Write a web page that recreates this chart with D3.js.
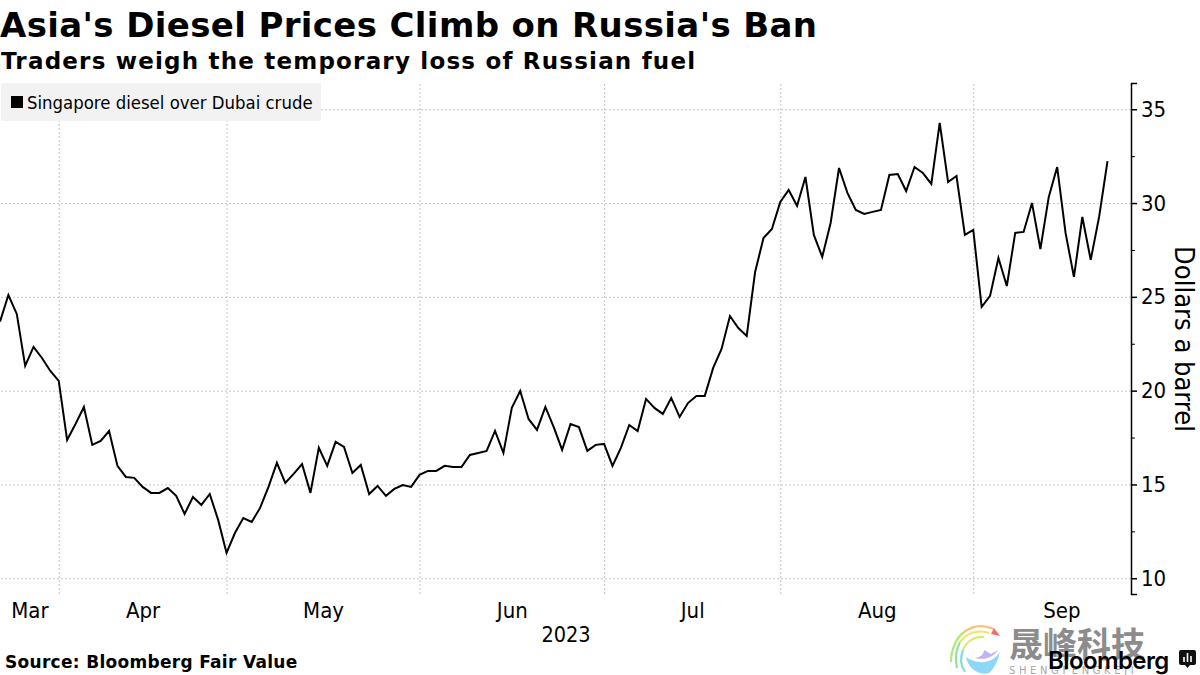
<!DOCTYPE html>
<html>
<head>
<meta charset="utf-8">
<script src="https://cdn.jsdelivr.net/npm/d3@7"></script>
<style>
  html, body { margin: 0; padding: 0; background: #fff; }
  svg { display: block; }
  text { font-family: "DejaVu Sans", sans-serif; fill: #000; }
  .grid line { stroke: #c4c4c4; stroke-width: 1; stroke-dasharray: 2 2; }
  .tick-label { font-stretch: condensed; }
</style>
</head>
<body>
<div id="chart"></div>
<script>
// Singapore diesel over Dubai crude, one value per weekday, 23 Mar - 25 Sep 2023
var spread = [
  23.68, 25.10, 24.09, 21.32, 22.33, 21.74, 21.05, 20.52, 17.37, 18.22,
  19.13, 17.11, 17.32, 17.85, 15.99, 15.40, 15.35, 14.87, 14.55, 14.55,
  14.81, 14.39, 13.43, 14.33, 13.91, 14.49, 13.11, 11.35, 12.41, 13.21,
  13.00, 13.75, 14.87, 16.15, 15.08, 15.56, 16.09, 14.55, 16.95, 15.99,
  17.27, 17.00, 15.61, 16.04, 14.49, 14.92, 14.39, 14.76, 14.97, 14.87,
  15.51, 15.72, 15.72, 15.99, 15.93, 15.93, 16.57, 16.68, 16.79, 17.85,
  16.68, 19.08, 19.98, 18.49, 17.91, 19.13, 18.06, 16.84, 18.22, 18.06,
  16.79, 17.11, 17.16, 15.99, 16.95, 18.17, 17.85, 19.56, 19.08, 18.76,
  19.61, 18.60, 19.34, 19.72, 19.72, 21.21, 22.22, 23.98, 23.34, 22.92,
  26.33, 28.14, 28.62, 30.06, 30.70, 29.85, 31.39, 28.30, 27.13, 28.94,
  31.87, 30.54, 29.63, 29.42, 29.53, 29.63, 31.50, 31.55, 30.64, 31.92,
  31.60, 31.02, 34.27, 31.12, 31.44, 28.30, 28.57, 24.46, 25.05, 27.07,
  25.58, 28.41, 28.46, 30.00, 27.55, 30.33, 31.92, 28.41, 26.06, 29.26,
  26.97, 29.26, 32.24
];
var monthLabels = ["Mar", "Apr", "May", "Jun", "Jul", "Aug", "Sep"];
// index of the first weekday of each month in spread (last one is past the end)
var monthStarts = [0, 7, 27, 50, 72, 93, 116, 137];
var yMajor = [10, 15, 20, 25, 30, 35];
var yMinor = [12.5, 17.5, 22.5, 27.5, 32.5];

const svg_width = 1200;
const svg_height = 675;
const plot = {left: 0, right: 1131, top: 83, bottom: 594};

const svg = d3.select('#chart').append('svg')
  .attr('width', svg_width).attr('height', svg_height);

const xScale = d3.scaleLinear([0, 134.8], [plot.left, plot.right]);
const yScale = d3.scaleLinear([9.16, 36.40], [plot.bottom, plot.top]);

// gridlines
svg.append('g').attr('class', 'grid').attr('transform', `translate(${plot.right},0)`)
  .call(d3.axisRight(yScale).tickValues(yMajor).tickSize(-(plot.right - plot.left)).tickFormat(''))
  .call(g => g.select('.domain').remove());
svg.append('g').attr('class', 'grid').attr('transform', `translate(0,${plot.bottom})`)
  .call(d3.axisBottom(xScale).tickValues(monthStarts.slice(1, -1)).tickSize(-(plot.bottom - plot.top)).tickFormat(''))
  .call(g => g.select('.domain').remove());

// legend
svg.append('rect').attr('x', 1).attr('y', 83).attr('width', 320).attr('height', 38).attr('rx', 3).attr('fill', '#f2f2f2');
svg.append('rect').attr('x', 11).attr('y', 96).attr('width', 12).attr('height', 12).attr('fill', '#000');
svg.append('text').attr('class', 'tick-label').attr('x', 27).attr('y', 109).style('font-size', '18.4px')
  .text('Singapore diesel over Dubai crude');

// series
const line = d3.line().x((d, i) => xScale(i)).y(d => yScale(d));
svg.append('path').datum(spread).attr('d', line)
  .attr('fill', 'none').attr('stroke', '#000').attr('stroke-width', 2).attr('stroke-linejoin', 'miter');

// month labels sit in the middle of each month
const monthMid = monthLabels.map((m, i) => (monthStarts[i] + monthStarts[i + 1]) / 2);
const xAxis = d3.axisBottom(xScale).tickValues(monthMid).tickSize(0).tickPadding(8)
  .tickFormat((d, i) => monthLabels[i]);
svg.append('g').attr('transform', `translate(0,${plot.bottom})`).call(xAxis)
  .call(g => g.select('.domain').remove())
  .call(g => g.selectAll('text').attr('class', 'tick-label').attr('fill', '#000').style('font-size', '22px'));
svg.append('text').attr('class', 'tick-label').attr('x', 566).attr('y', 642).attr('text-anchor', 'middle')
  .style('font-size', '21.5px').text('2023');

// right axis
const yAxis = d3.axisRight(yScale).tickValues(yMajor).tickSize(6).tickPadding(4);
svg.append('g').attr('transform', `translate(${plot.right},0)`).call(yAxis)
  .call(g => g.select('.domain').attr('stroke', '#000').attr('stroke-width', 1.5))
  .call(g => g.selectAll('.tick line').attr('stroke', '#000').attr('stroke-width', 1.5))
  .call(g => g.selectAll('text').attr('class', 'tick-label').attr('fill', '#000').style('font-size', '22px'));
svg.append('g').attr('transform', `translate(${plot.right},0)`)
  .call(d3.axisRight(yScale).tickValues(yMinor).tickSize(4).tickFormat(''))
  .call(g => g.select('.domain').remove())
  .call(g => g.selectAll('.tick line').attr('stroke', '#000').attr('stroke-width', 1));

svg.append('text').attr('class', 'tick-label').attr('transform', 'translate(1175,339) rotate(90)')
  .attr('text-anchor', 'middle').style('font-size', '27px').text('Dollars a barrel');

// titles
svg.append('text').attr('x', 0).attr('y', 37).style('font-size', '34px').style('font-weight', 'bold')
  .style('letter-spacing', '0.36px').text("Asia's Diesel Prices Climb on Russia's Ban");
svg.append('text').attr('x', 1).attr('y', 69).style('font-size', '23px').style('font-weight', 'bold')
  .style('letter-spacing', '1.2px').text('Traders weigh the temporary loss of Russian fuel');
svg.append('text').attr('x', 5).attr('y', 668).style('font-size', '17px').style('font-weight', 'bold')
  .style('letter-spacing', '0.3px').text('Source: Bloomberg Fair Value');

// watermark
const swirl = [
  ['M994 629 C982 624 972 626 964 632', '#f9c27a'],
  ['M964 632 C956 638 951 650 951 662', '#b5e67e'],
  ['M989 633 C976 629 966 634 960 642', '#f5e36c'],
  ['M960 642 C956 650 955 660 957 668', '#8fe3a0'],
  ['M984 637 C974 636 966 642 963 650', '#d8ea72'],
  ['M963 650 C960 658 961 666 965 672', '#7fdcd8']
];
svg.selectAll('.swirl').data(swirl).enter().append('path').attr('class', 'swirl')
  .attr('d', d => d[0]).attr('fill', 'none').attr('stroke', d => d[1]).attr('stroke-width', 2.2);
svg.append('path').attr('d', 'M994 628 L1000 636 L991 634 Z').attr('fill', '#f56b6b');
svg.append('path').attr('d', 'M1000 652 C992 664 977 665 966 657 C968 668 978 676 989 673 C995 668 998 660 1000 652 Z')
  .attr('fill', '#8fd6fb');
svg.append('path').attr('d', 'M984 650 L991 654 L998 650 C992 659 982 660 975 658 C981 657 984 654 984 650 Z')
  .attr('fill', '#c3b1f5');
svg.append('text').attr('x', 1009).attr('y', 657).style('font-family', '"Noto Sans CJK SC"').style('font-size', '34px')
  .style('font-weight', 'bold').style('fill', '#8c8c8c').text('晟峰科技');
svg.append('text').attr('x', 1009).attr('y', 674).style('font-size', '10px').style('letter-spacing', '3.6px')
  .style('fill', '#a8a8a8').text('SHENGFENGKEJI');

// Bloomberg mark
svg.append('text').attr('x', 1048).attr('y', 669).style('font-family', 'Inter').style('font-size', '24px')
  .style('font-weight', '600').style('letter-spacing', '-0.6px').text('Bloomberg');
svg.append('path').attr('d', 'M1181 650 H1194 Q1196 650 1196 652 V663 Q1196 665 1194 665 H1190 L1187.5 668 L1185 665 H1181 Q1179 665 1179 663 V652 Q1179 650 1181 650 Z')
  .attr('fill', '#111');
svg.append('path').attr('d', 'M1184 657 V662 M1187.5 653 V662 M1191 656 V662').attr('stroke', '#fff').attr('stroke-width', 1.6);
</script>
</body>
</html>
